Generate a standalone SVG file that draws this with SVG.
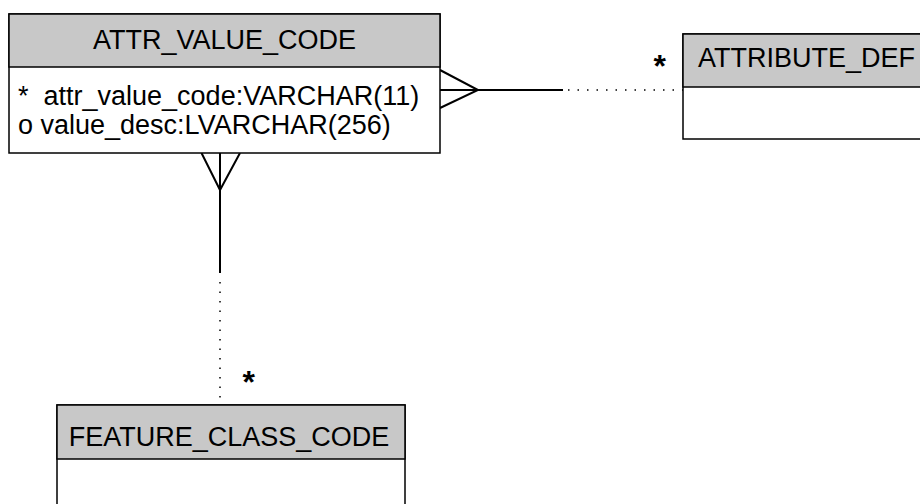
<svg xmlns="http://www.w3.org/2000/svg" width="920" height="504" viewBox="0 0 920 504">
<style>
.box{fill:#ffffff;stroke:#000;stroke-width:1.5}
.hdr{fill:#c8c8c8;stroke:#000;stroke-width:1.5}
.t{font-family:"Liberation Sans",Arial,sans-serif;font-size:27px;fill:#000}
.c{text-anchor:middle}
.ln{stroke:#000;stroke-width:2;fill:none}
.dot{stroke:#000;stroke-width:1.5;fill:none;stroke-dasharray:1.5 8}
.star{font-family:"Liberation Sans",Arial,sans-serif;font-size:32px;font-weight:bold;fill:#000}
</style>
<rect width="920" height="504" fill="#fff"/>
<g id="connectors">
  <polyline class="ln" points="440,70 478,90 440,108"/>
  <line class="ln" x1="440" y1="90" x2="563" y2="90"/>
  <line class="dot" x1="568" y1="90" x2="683" y2="90"/>
  <text class="star" x="653.5" y="77">*</text>
  <polyline class="ln" points="201.5,153 220,190 240,153"/>
  <line class="ln" x1="220" y1="153" x2="220" y2="273"/>
  <line class="dot" x1="220" y1="282" x2="220" y2="402"/>
  <text class="star" x="242.5" y="393">*</text>
</g>
<g id="ATTR_VALUE_CODE">
  <rect class="box" x="9" y="14" width="431" height="139"/>
  <rect class="hdr" x="9" y="14" width="431" height="53"/>
  <text class="t c" x="224.5" y="49">ATTR_VALUE_CODE</text>
  <text class="t" x="18" y="105" xml:space="preserve">*  attr_value_code:VARCHAR(11)</text>
  <text class="t" x="18" y="134">o value_desc:LVARCHAR(256)</text>
</g>
<g id="ATTRIBUTE_DEF">
  <rect class="box" x="683" y="34" width="260" height="105"/>
  <rect class="hdr" x="683" y="34" width="260" height="53"/>
  <text class="t" x="698" y="67">ATTRIBUTE_DEF</text>
</g>
<g id="FEATURE_CLASS_CODE">
  <rect class="box" x="57" y="405" width="348" height="110"/>
  <rect class="hdr" x="57" y="405" width="348" height="54"/>
  <text class="t c" x="229" y="446">FEATURE_CLASS_CODE</text>
</g>
</svg>
